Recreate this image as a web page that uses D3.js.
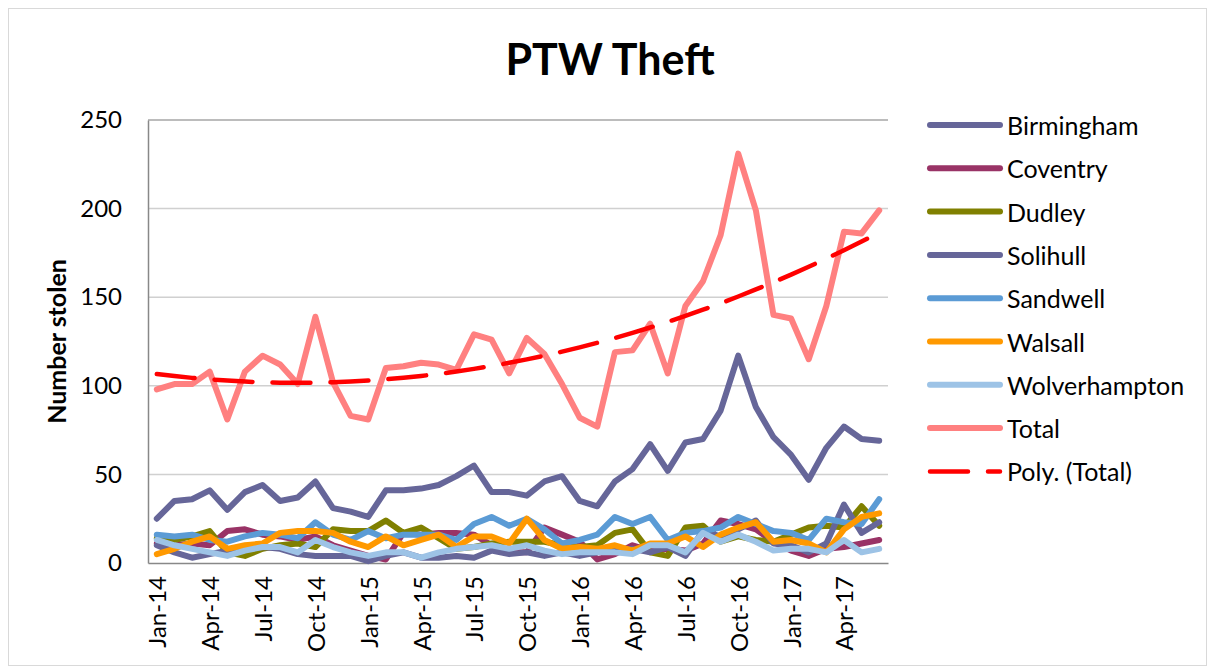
<!DOCTYPE html>
<html>
<head>
<meta charset="utf-8">
<script src="https://cdn.jsdelivr.net/npm/d3@7.9.0/dist/d3.min.js"></script>
<style>
  body { margin: 0; background: #fff; }
  svg { font-family: Lato, "Open Sans", sans-serif; }
</style>
</head>
<body>
<svg id="chart" width="1210" height="669"></svg>
<script>
const months = ['Jan-14','Feb-14','Mar-14','Apr-14','May-14','Jun-14','Jul-14','Aug-14','Sep-14','Oct-14','Nov-14','Dec-14',
  'Jan-15','Feb-15','Mar-15','Apr-15','May-15','Jun-15','Jul-15','Aug-15','Sep-15','Oct-15','Nov-15','Dec-15',
  'Jan-16','Feb-16','Mar-16','Apr-16','May-16','Jun-16','Jul-16','Aug-16','Sep-16','Oct-16','Nov-16','Dec-16',
  'Jan-17','Feb-17','Mar-17','Apr-17','May-17','Jun-17'];

const birmingham = [25,35,36,41,30,40,44,35,37,46,31,29,26,41,41,42,44,49,55,40,40,38,46,49,35,32,46,53,67,52,68,70,86,117,88,71,61,47,65,77,70,69];
const coventry = [11,10,11,10,18,19,16,15,13,15,10,7,4,2,17,16,17,17,16,10,6,6,20,16,12,2,5,10,7,8,7,11,24,22,19,12,7,4,8,9,11,13];
const dudley = [14,13,15,18,6,4,8,10,11,9,19,18,18,24,17,20,14,8,9,11,12,12,12,10,9,10,17,19,6,4,20,21,12,15,13,12,16,20,21,20,32,21];
const solihull = [10,6,3,5,7,8,9,8,5,4,4,4,1,4,6,3,3,4,3,7,5,6,4,6,4,6,7,8,6,9,4,18,15,19,24,11,10,6,11,33,17,23];
const sandwell = [16,15,16,13,12,15,17,16,14,23,16,13,18,14,16,16,16,13,22,26,21,25,19,11,13,16,26,22,26,13,17,18,20,26,22,18,17,13,25,23,22,36];
const walsall = [5,8,12,15,8,10,11,17,18,18,17,12,9,15,10,13,16,9,15,15,11,25,13,8,9,8,10,7,11,11,15,9,16,20,23,12,13,11,6,19,26,28];
const wolverhampton = [13,10,8,6,4,7,9,9,6,13,9,6,4,6,6,3,6,8,9,10,8,10,7,5,6,6,6,5,10,10,6,17,12,16,12,7,8,8,6,13,6,8];
const total = [98,101,101,108,81,108,117,112,101,139,102,83,81,110,111,113,112,109,129,126,107,127,118,101,82,77,119,120,135,107,145,159,185,231,199,140,138,115,145,187,186,199];

const yTicks = [0, 50, 100, 150, 200, 250];

const series = [
  { name: 'Birmingham', values: birmingham, color: '#666699' },
  { name: 'Coventry', values: coventry, color: '#993366' },
  { name: 'Dudley', values: dudley, color: '#808000' },
  { name: 'Solihull', values: solihull, color: '#666699' },
  { name: 'Sandwell', values: sandwell, color: '#5B9BD5' },
  { name: 'Walsall', values: walsall, color: '#FF9900' },
  { name: 'Wolverhampton', values: wolverhampton, color: '#9DC3E6' },
  { name: 'Total', values: total, color: '#FF8080' }
];

// polynomial trendline (least squares, like Excel's Poly. trendline, order 2)
function polyFit(ys, order) {
  const n = order + 1;
  const A = d3.range(n).map(() => new Array(n + 1).fill(0));
  ys.forEach((y, i) => {
    const x = i + 1;
    for (let r = 0; r < n; r++) {
      for (let c = 0; c < n; c++) A[r][c] += Math.pow(x, r + c);
      A[r][n] += y * Math.pow(x, r);
    }
  });
  for (let p = 0; p < n; p++) {
    let max = p;
    for (let r = p + 1; r < n; r++) if (Math.abs(A[r][p]) > Math.abs(A[max][p])) max = r;
    [A[p], A[max]] = [A[max], A[p]];
    for (let r = p + 1; r < n; r++) {
      const f = A[r][p] / A[p][p];
      for (let c = p; c <= n; c++) A[r][c] -= f * A[p][c];
    }
  }
  const coef = new Array(n).fill(0);
  for (let r = n - 1; r >= 0; r--) {
    let s = A[r][n];
    for (let c = r + 1; c < n; c++) s -= A[r][c] * coef[c];
    coef[r] = s / A[r][r];
  }
  return (x) => coef.reduce((acc, k, j) => acc + k * Math.pow(x, j), 0);
}
const trend = polyFit(total, 2);

const svg = d3.select('#chart');
const margin = { left: 148, top: 120, right: 322, bottom: 106 };
const width = 1210 - margin.left - margin.right;
const height = 669 - margin.top - margin.bottom;

// outer border
svg.append('rect')
  .attr('x', 8.5).attr('y', 8.5).attr('width', 1198).attr('height', 657)
  .attr('fill', 'none').attr('stroke', '#d9d9d9');

svg.append('text')
  .attr('x', 610).attr('y', 75)
  .attr('text-anchor', 'middle')
  .attr('font-size', 43).attr('font-weight', 'bold')
  .text('PTW Theft');

const g = svg.append('g').attr('transform', `translate(${margin.left},${margin.top})`);

const x = d3.scaleBand().domain(months).range([0, width]);
const y = d3.scaleLinear().domain([0, 250]).range([height, 0]);
const px = (i) => x(months[i]) + x.bandwidth() / 2;

// gridlines
g.append('g').selectAll('line').data(yTicks.filter(d => d > 0)).join('line')
  .attr('x1', 0).attr('x2', width)
  .attr('y1', d => y(d)).attr('y2', d => y(d))
  .attr('stroke', d => d === 250 ? '#a6a6a6' : '#d0d0d0')
  .attr('stroke-width', 1.5);

// y axis
const yAxis = g.append('g').call(d3.axisLeft(y).tickValues(yTicks).tickSize(0).tickPadding(26));
yAxis.select('.domain').attr('stroke', '#888').attr('stroke-width', 1.5);
yAxis.selectAll('text').attr('font-size', 24).attr('fill', '#000').attr('font-family', 'Lato, sans-serif');

// x axis
const xAxis = g.append('g').attr('transform', `translate(0,${height})`)
  .call(d3.axisBottom(x).tickValues(months.filter((m, i) => i % 3 === 0)).tickSize(0).tickPadding(0));
xAxis.select('.domain').attr('stroke', '#888').attr('stroke-width', 1.5);
xAxis.selectAll('text')
  .attr('font-size', 24).attr('fill', '#000').attr('font-family', 'Lato, sans-serif')
  .attr('text-anchor', 'end')
  .attr('dy', null)
  .attr('transform', 'translate(0,13) rotate(-90)')
  .attr('dominant-baseline', 'central')
  .attr('y', 0).attr('x', 0);

svg.append('text')
  .attr('transform', `translate(66,${margin.top + height / 2}) rotate(-90)`)
  .attr('text-anchor', 'middle')
  .attr('font-size', 25).attr('font-weight', 'bold')
  .text('Number stolen');

const line = d3.line().x((d, i) => px(i)).y(d => y(d));

g.append('g').selectAll('path').data(series).join('path')
  .attr('d', d => line(d.values))
  .attr('fill', 'none')
  .attr('stroke', d => d.color)
  .attr('stroke-width', 6)
  .attr('stroke-linejoin', 'round')
  .attr('stroke-linecap', 'round');

const trendLine = d3.line().x(d => px(d)).y(d => y(trend(d + 1))).curve(d3.curveMonotoneX);
g.append('path')
  .attr('d', trendLine(d3.range(months.length)))
  .attr('fill', 'none')
  .attr('stroke', '#FF0000')
  .attr('stroke-width', 4.5)
  .attr('stroke-linecap', 'round')
  .attr('stroke-dasharray', '38,20');

// legend
const legendItems = series.map(s => ({ name: s.name, color: s.color, dash: null }))
  .concat([{ name: 'Poly. (Total)', color: '#FF0000', dash: '38,20' }]);
const legend = svg.append('g').attr('transform', 'translate(928,125)');
const li = legend.selectAll('g').data(legendItems).join('g')
  .attr('transform', (d, i) => `translate(0,${i * 43.3})`);
li.append('line')
  .attr('x1', 2).attr('x2', 72).attr('y1', 0).attr('y2', 0)
  .attr('stroke', d => d.color)
  .attr('stroke-width', d => d.dash ? 4.5 : 6)
  .attr('stroke-linecap', 'round')
  .attr('stroke-dasharray', d => d.dash);
li.append('text')
  .attr('x', 79).attr('y', 0)
  .attr('dominant-baseline', 'central')
  .attr('font-size', 25)
  .text(d => d.name);
</script>
</body>
</html>
